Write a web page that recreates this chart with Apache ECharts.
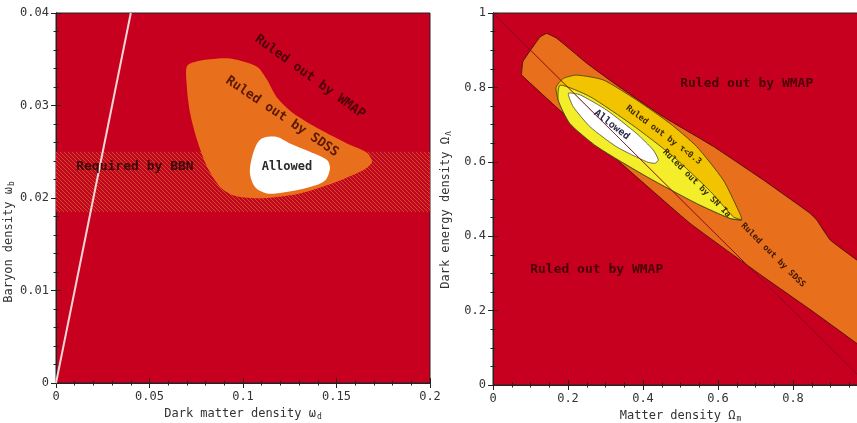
<!DOCTYPE html>
<html>
<head>
<meta charset="utf-8">
<script src="https://cdn.jsdelivr.net/npm/echarts@6/dist/echarts.min.js"></script>
<style>
  html, body { margin: 0; padding: 0; background: #fff; }
  #chart { width: 857px; height: 423px; }
</style>
</head>
<body>
<div id="chart"></div>
<script>
// ---- left panel: dark matter density vs baryon density ----
const leftSdssBlob = [
  [0.0706, 0.0344], [0.0914, 0.0351], [0.1075, 0.0342], [0.1128, 0.0328], [0.118, 0.0309],
  [0.1267, 0.0292], [0.1412, 0.0274], [0.1556, 0.0259], [0.1663, 0.0249], [0.169, 0.0239],
  [0.1642, 0.0230], [0.148, 0.0216], [0.1305, 0.0205], [0.1128, 0.0200], [0.1037, 0.0200],
  [0.0947, 0.0203], [0.0877, 0.0212], [0.0807, 0.0234], [0.0754, 0.0263], [0.0717, 0.0292],
  [0.070, 0.0320]
];
const leftAllowed = [
  [0.1107, 0.0265], [0.1182, 0.0266], [0.1251, 0.0259], [0.1358, 0.0250], [0.1449, 0.0241],
  [0.1465, 0.0232], [0.1439, 0.0219], [0.1358, 0.0212], [0.1214, 0.0206], [0.1128, 0.0205],
  [0.1064, 0.0212], [0.1037, 0.0227], [0.1048, 0.0244], [0.1075, 0.0259]
];
const bbnBand = [[0, 0.0185], [0.2, 0.0185], [0.2, 0.025], [0, 0.025]];
const baryonLine = [[0, 0], [0.04, 0.04]];
const leftNotes = [
  [0.1358, 0.0331, 'Ruled out by WMAP'],
  [0.1209, 0.0288, 'Ruled out by SDSS'],
  [0.0422, 0.02335, 'Required by BBN'],
  [0.1235, 0.02335, 'Allowed']
];

// ---- right panel: matter density vs dark energy density ----
const sdssBand = [
  [0.0765, 0.842], [0.08, 0.87], [0.125, 0.935], [0.143, 0.945], [0.170, 0.932],
  [0.25, 0.865], [0.33, 0.806], [0.454, 0.721], [0.588, 0.641], [0.721, 0.551],
  [0.845, 0.462], [0.863, 0.444], [0.899, 0.39], [0.97, 0.336], [1.0, 0.31],
  [1.0, 0.09], [0.97, 0.112], [0.854, 0.197], [0.721, 0.291], [0.525, 0.435],
  [0.321, 0.614], [0.1875, 0.730], [0.0765, 0.833]
];
const tauRegion = [
  [0.168, 0.800], [0.1875, 0.824], [0.223, 0.833], [0.294, 0.820], [0.383, 0.766],
  [0.472, 0.703], [0.543, 0.641], [0.614, 0.551], [0.654, 0.470], [0.663, 0.444],
  [0.632, 0.448], [0.543, 0.488], [0.41, 0.56], [0.277, 0.641], [0.205, 0.703],
  [0.174, 0.766]
];
const snRegion = [
  [0.179, 0.806], [0.259, 0.775], [0.37, 0.70], [0.481, 0.614], [0.58, 0.52],
  [0.641, 0.452], [0.663, 0.444], [0.632, 0.448], [0.543, 0.488], [0.41, 0.56],
  [0.277, 0.641], [0.205, 0.703], [0.174, 0.766]
];
const rightAllowed = [
  [0.201, 0.784], [0.232, 0.780], [0.303, 0.739], [0.383, 0.676], [0.427, 0.632],
  [0.441, 0.605], [0.432, 0.596], [0.41, 0.60], [0.33, 0.64], [0.259, 0.694],
  [0.214, 0.748]
];
const flatLine = [[0, 1], [1, 0]];
const flatDotted = [[0.215, 0.785], [0.36, 0.64]];
const rightNotes = [
  [0.6765, 0.811, 'Ruled out by WMAP'],
  [0.2765, 0.311, 'Ruled out by WMAP'],
  [0.3165, 0.699, 'Allowed'],
  [0.455, 0.672, 'Ruled out by \u03c4<0.3'],
  [0.543, 0.542, 'Ruled out by SN Ia'],
  [0.747, 0.349, 'Ruled out by SDSS']
];

const FONT = '"DejaVu Sans Mono", monospace';
const RED = '#c8001f';

const leftNoteStyle = [
  { angle: 36, size: 13, color: '#4a0008' },
  { angle: 34, size: 13, color: '#5a1800' },
  { angle: 0, size: 13, color: '#3a0808' },
  { angle: 0, size: 12, color: '#2a2a2a' }
];
const rightNoteStyle = [
  { angle: 0, size: 13, color: '#4a0008' },
  { angle: 0, size: 13, color: '#4a0008' },
  { angle: 38, size: 10, color: '#2a2a48' },
  { angle: 37, size: 8.5, color: '#3a2c00' },
  { angle: 45, size: 8.5, color: '#3a2c00' },
  { angle: 45, size: 8.5, color: '#3a1400' }
];

function hatchPattern() {
  const c = document.createElement('canvas');
  c.width = 4; c.height = 4;
  const g = c.getContext('2d');
  g.fillStyle = '#c2061f';
  g.fillRect(0, 0, 4, 4);
  g.strokeStyle = '#cf4a26';
  g.lineWidth = 1;
  g.beginPath();
  for (let k = -1; k <= 1; k++) {
    g.moveTo(k * 4 - 1, -1);
    g.lineTo(k * 4 + 5, 5);
  }
  g.stroke();
  return c;
}

function polySeries(idx, pts, fill, stroke, lw, smooth) {
  return {
    type: 'custom', xAxisIndex: idx, yAxisIndex: idx, silent: true, clip: true,
    data: [pts[0]],
    renderItem: (params, api) => ({
      type: 'polygon',
      shape: { points: pts.map(p => api.coord(p)), smooth: smooth || 0 },
      style: { fill: fill, stroke: stroke || null, lineWidth: lw || 0 }
    })
  };
}

function noteSeries(idx, notes, styles) {
  return {
    type: 'custom', xAxisIndex: idx, yAxisIndex: idx, silent: true, z: 10,
    data: notes.map(n => [n[0], n[1]]),
    renderItem: (params, api) => {
      const p = api.coord([api.value(0), api.value(1)]);
      const s = styles[params.dataIndex];
      return {
        type: 'text', x: p[0], y: p[1], rotation: -s.angle * Math.PI / 180,
        style: {
          text: notes[params.dataIndex][2], fill: s.color,
          font: 'bold ' + s.size + 'px ' + FONT, align: 'center', verticalAlign: 'middle'
        }
      };
    }
  };
}

function lineSeries(idx, pts, color, width, type) {
  return {
    type: 'line', xAxisIndex: idx, yAxisIndex: idx, data: pts, silent: true,
    showSymbol: false, symbol: 'none',
    lineStyle: { color: color, width: width, type: type || 'solid' }
  };
}

const tick = { show: true, inside: true, length: 5, lineStyle: { color: '#222' } };
const minor = (n) => ({ show: true, splitNumber: n, length: 2.5, lineStyle: { color: '#222' } });
const label = { color: '#333', fontSize: 12, fontFamily: FONT };
const nameStyle = (pad) => ({
  color: '#333', fontSize: 12, fontFamily: FONT, padding: pad,
  rich: { sub: { fontSize: 8, fontFamily: FONT, color: '#333', padding: [6, 0, 0, 1] } }
});

function xPair(grid, min, max, interval, minorN, name) {
  return [
    { type: 'value', gridIndex: grid, position: 'bottom', min: min, max: max, interval: interval,
      axisLine: { show: true, lineStyle: { color: '#222' } }, axisTick: tick, minorTick: minor(minorN),
      splitLine: { show: false }, axisLabel: Object.assign({ margin: 8 }, label),
      name: name, nameLocation: 'middle', nameGap: 22, nameTextStyle: nameStyle(0) },
    { type: 'value', gridIndex: grid, position: 'top', min: min, max: max, interval: interval,
      axisLine: { show: true, lineStyle: { color: '#222' } }, axisTick: tick, minorTick: minor(minorN),
      splitLine: { show: false }, axisLabel: { show: false } }
  ];
}
function yPair(grid, min, max, interval, minorN, name, gap, pad) {
  return [
    { type: 'value', gridIndex: grid, position: 'left', min: min, max: max, interval: interval,
      axisLine: { show: true, lineStyle: { color: '#222' } }, axisTick: tick, minorTick: minor(minorN),
      splitLine: { show: false }, axisLabel: Object.assign({ margin: 7 }, label),
      name: name, nameLocation: 'middle', nameGap: gap, nameTextStyle: nameStyle(pad) },
    { type: 'value', gridIndex: grid, position: 'right', min: min, max: max, interval: interval,
      axisLine: { show: true, lineStyle: { color: '#222' } }, axisTick: tick, minorTick: minor(minorN),
      splitLine: { show: false }, axisLabel: { show: false } }
  ];
}

const chart = echarts.init(document.getElementById('chart'), null, { renderer: 'canvas' });
chart.setOption({
  animation: false,
  backgroundColor: '#fff',
  grid: [
    { left: 56, top: 13, width: 374, height: 370, show: true, backgroundColor: RED,
      borderColor: '#222', borderWidth: 1, outerBoundsMode: 'none', containLabel: false },
    { left: 493, top: 13, width: 375, height: 372, show: true, backgroundColor: RED,
      borderColor: '#222', borderWidth: 1, outerBoundsMode: 'none', containLabel: false }
  ],
  xAxis: [
    ...xPair(0, 0, 0.2, 0.05, 5, 'Dark matter density \u03c9{sub|d}'),
    ...xPair(1, 0, 1, 0.2, 4, 'Matter density \u03a9{sub|m}')
  ],
  yAxis: [
    ...yPair(0, 0, 0.04, 0.01, 5, 'Baryon density \u03c9{sub|b}', 32, [0, 88, 0, 0]),
    ...yPair(1, 0, 1, 0.2, 4, 'Dark energy density \u03a9{sub|\u039b}', 40, [0, 22, 0, 0])
  ],
  series: [
    // left panel
    polySeries(0, bbnBand, { image: hatchPattern(), repeat: 'repeat' }),
    polySeries(0, leftSdssBlob, '#e8701c', null, 0, 0.25),
    polySeries(0, leftAllowed, '#ffffff', null, 0, 0.3),
    lineSeries(0, baryonLine, '#f6d6d6', 2),
    noteSeries(0, leftNotes, leftNoteStyle),
    // right panel
    polySeries(2, sdssBand, '#e8701c', '#3a0a00', 0.8, 0.1),
    lineSeries(2, flatLine, '#8c0818', 1),
    polySeries(2, tauRegion, '#f2c300', '#3a3a10', 0.8, 0.2),
    polySeries(2, snRegion, '#f4ee2a', '#3a3a10', 0.8, 0.2),
    polySeries(2, rightAllowed, '#ffffff', '#333', 0.7, 0.2),
    lineSeries(2, flatDotted, '#666', 1, 'dotted'),
    noteSeries(2, rightNotes, rightNoteStyle)
  ]
});
</script>
</body>
</html>
